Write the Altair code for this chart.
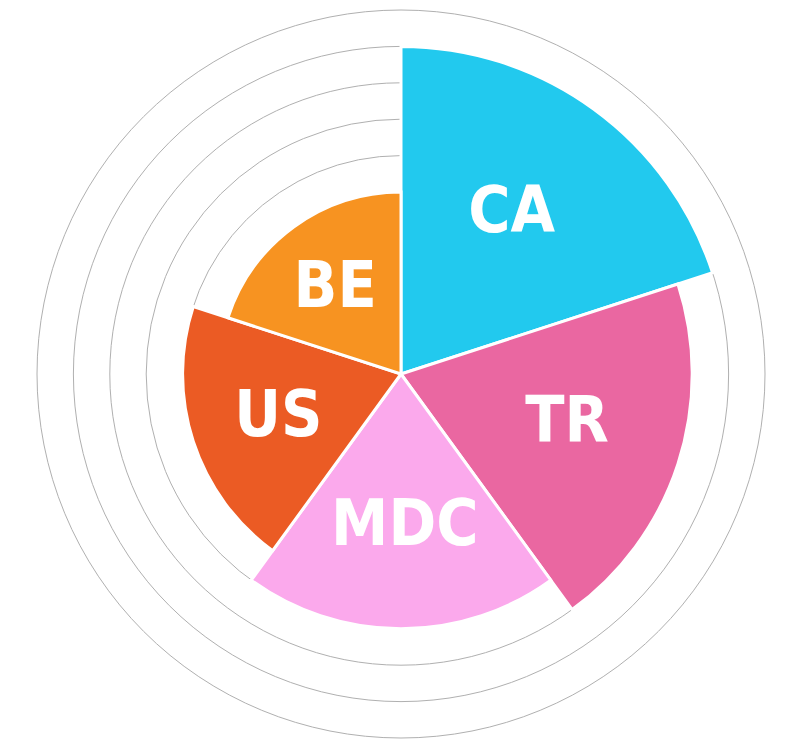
import altair as alt
import pandas as pd
import math

countries = ["CA", "TR", "MDC", "US", "BE"]
values = [9, 8, 7, 6, 5]
colors = ["#22C9EE", "#EA67A1", "#FBA9EC", "#EB5B24", "#F79321"]
grid_values = [5, 6, 7, 8, 9, 10]

df = pd.DataFrame({
    "country": countries,
    "value": values,
    "idx": list(range(len(countries))),
})
gdf = pd.DataFrame({"g": grid_values})

n = len(countries)
tscale = alt.Scale(domain=[0, n], range=[0, 2 * math.pi])
rscale = alt.Scale(type="linear", domain=[0, 10], range=[0, 364])
cscale = alt.Scale(domain=countries, range=colors)

grid = alt.Chart(gdf).transform_calculate(
    t0="0", t1=str(n)
).mark_arc(fill="transparent", stroke="#b0b0b0", strokeWidth=1).encode(
    theta=alt.Theta("t0:Q", scale=tscale),
    theta2="t1:Q",
    radius=alt.Radius("g:Q", scale=rscale),
)

wedges = alt.Chart(df).transform_calculate(
    t1="datum.idx + 1"
).mark_arc(stroke="white", strokeWidth=3).encode(
    theta=alt.Theta("idx:Q", scale=tscale),
    theta2="t1:Q",
    radius=alt.Radius("value:Q", scale=rscale),
    color=alt.Color("country:N", scale=cscale, legend=None),
)

labels = alt.Chart(df).transform_calculate(
    tm="datum.idx + 0.48", lr="datum.value * 0.595"
).mark_text(
    font="DejaVu Sans Condensed, Liberation Sans Narrow, Liberation Sans, sans-serif",
    fontWeight="bold", fontSize=64,
    color="white", align="center", baseline="middle"
).encode(
    theta=alt.Theta("tm:Q", scale=tscale),
    radius=alt.Radius("lr:Q", scale=rscale),
    text="country:N",
)

chart = alt.layer(grid, wedges, labels).properties(
    width=786, height=728, padding=0
).configure_view(stroke=None)

chart.save("out.html", embed_options={"renderer": "svg", "actions": False})
